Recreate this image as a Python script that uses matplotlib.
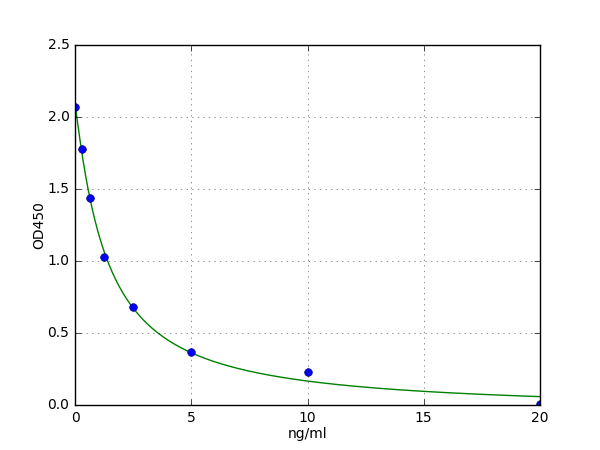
import numpy as np
import matplotlib
matplotlib.use("Agg")
import matplotlib.pyplot as plt

plt.style.use("classic")

conc = [0.0, 0.3125, 0.625, 1.25, 2.5, 5.0, 10.0, 20.0]
od450 = [2.07, 1.78, 1.44, 1.03, 0.68, 0.365, 0.23, 0.005]


def fit_4pl(x, y):
    # grid over slope/midpoint, top and bottom solved by linear least squares
    x = np.asarray(x)
    y = np.asarray(y)
    best = None
    for b in np.linspace(0.5, 2.5, 81):
        for c in np.exp(np.linspace(np.log(0.3), np.log(20), 160)):
            g = 1.0 / (1.0 + (x / c) ** b)
            A = np.column_stack([g, 1 - g])
            coef, *_ = np.linalg.lstsq(A, y, rcond=None)
            err = np.sum((A @ coef - y) ** 2)
            if best is None or err < best[0]:
                best = (err, coef[0], b, c, coef[1])
    return best[1:]


a, b, c, d = fit_4pl(conc, od450)
xs = np.linspace(0, 20, 400)
ys = d + (a - d) / (1 + (xs / c) ** b)

fig = plt.figure(figsize=(6, 4.5), dpi=100, facecolor="white")
ax = fig.add_axes([0.125, 0.1, 0.775, 0.8])
ax.plot(xs, ys, color="g", lw=1)
ax.plot(conc, od450, "bo", markersize=5.5, markeredgecolor="#00007f")
ax.set_xlim(0, 20)
ax.set_ylim(0, 2.5)
ax.set_xticks([0, 5, 10, 15, 20])
ax.set_yticks([0.0, 0.5, 1.0, 1.5, 2.0, 2.5])
ax.grid(True, linestyle=":", color="k", alpha=0.6)
ax.set_xlabel("ng/ml", fontsize=10, labelpad=2)
ax.set_ylabel("OD450", fontsize=10, labelpad=1)
ax.tick_params(labelsize=10)

fig.savefig("out.png", dpi=100, facecolor="white")
